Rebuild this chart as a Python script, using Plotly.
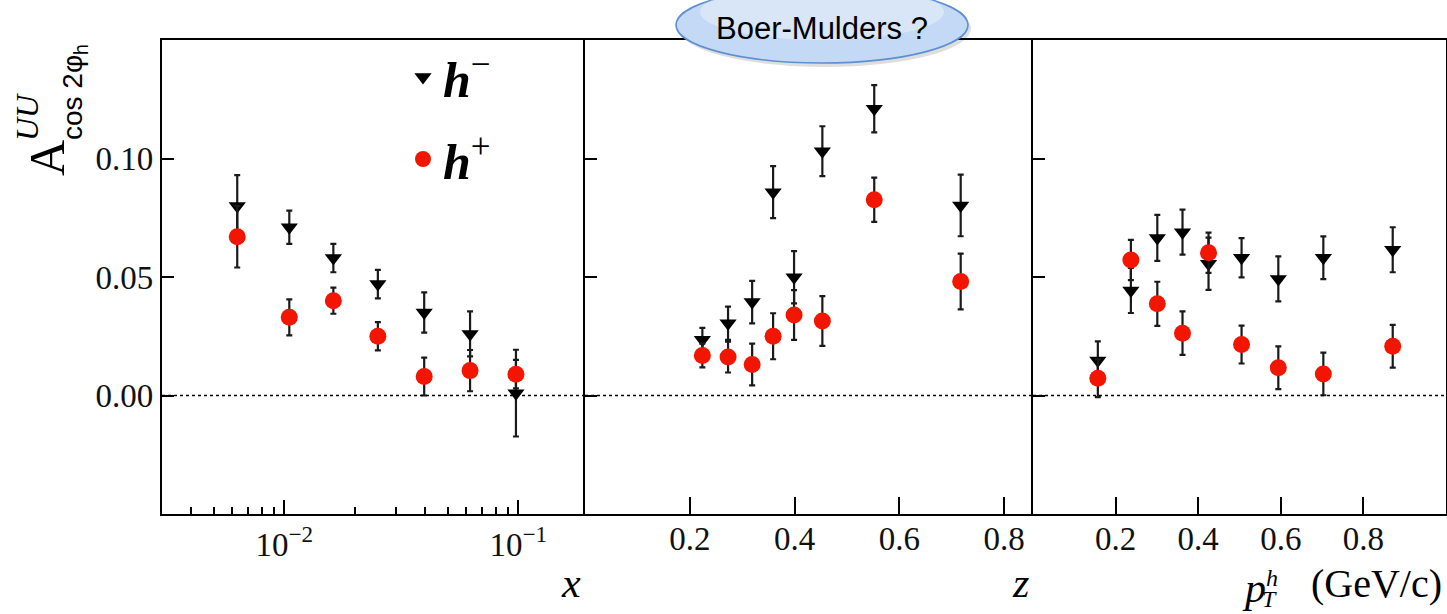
import math
import plotly.graph_objects as go

# ---------------- data ----------------
x_vals = [0.00629, 0.0105, 0.0162, 0.0251, 0.0396, 0.0622, 0.0977]
x_hminus = [0.080, 0.071, 0.058, 0.047, 0.035, 0.026, 0.001]
x_hminus_err = [0.013, 0.007, 0.006, 0.006, 0.0085, 0.0095, 0.0183]
x_hplus = [0.067, 0.033, 0.040, 0.025, 0.008, 0.0105, 0.009]
x_hplus_err = [0.013, 0.0076, 0.0055, 0.006, 0.008, 0.0087, 0.006]

z_vals = [0.224, 0.273, 0.319, 0.359, 0.399, 0.453, 0.552, 0.717]
z_hminus = [0.0235, 0.0305, 0.0394, 0.0858, 0.0499, 0.1031, 0.121, 0.0802]
z_hminus_err = [0.005, 0.007, 0.009, 0.011, 0.011, 0.0105, 0.010, 0.013]
z_hplus = [0.0169, 0.0162, 0.0131, 0.025, 0.034, 0.0314, 0.0826, 0.0481]
z_hplus_err = [0.005, 0.0065, 0.0088, 0.0097, 0.0105, 0.0105, 0.0093, 0.0118]

pt_vals = [0.157, 0.237, 0.301, 0.362, 0.425, 0.505, 0.594, 0.703, 0.871]
pt_hminus = [0.0148, 0.0443, 0.0665, 0.0689, 0.0556, 0.0581, 0.0492, 0.0581, 0.0615]
pt_hminus_err = [0.008, 0.0095, 0.0097, 0.0095, 0.011, 0.0083, 0.0095, 0.009, 0.0095]
pt_hplus = [0.0073, 0.0572, 0.0387, 0.0263, 0.0602, 0.0215, 0.0117, 0.0091, 0.0208]
pt_hplus_err = [0.008, 0.0085, 0.0093, 0.0092, 0.0085, 0.008, 0.009, 0.009, 0.009]

y_tickvals = [0.0, 0.05, 0.10]
y_ticktext = ["0.00", "0.05", "0.10"]
x_log_tickvals = [0.01, 0.1]
x_log_ticktext = ["10<sup>\u22122</sup>", "10<sup>\u22121</sup>"]
x_log_minor = [0.004, 0.005, 0.006, 0.007, 0.008, 0.009,
               0.02, 0.03, 0.04, 0.05, 0.06, 0.07, 0.08, 0.09]
lin_tickvals = [0.2, 0.4, 0.6, 0.8]
lin_ticktext = ["0.2", "0.4", "0.6", "0.8"]

# ---------------- layout helpers ----------------
W, H = 1447, 614


def px(v):
    return v / W


def py(v):
    return 1 - v / H


RED = "#f21600"
BLACK = "#000000"
SERIF = "Liberation Serif"
SANS = "Liberation Sans"

fig = go.Figure()

panels = [
    ("x", "y", x_vals, x_hminus, x_hminus_err, x_hplus, x_hplus_err),
    ("x2", "y2", z_vals, z_hminus, z_hminus_err, z_hplus, z_hplus_err),
    ("x3", "y3", pt_vals, pt_hminus, pt_hminus_err, pt_hplus, pt_hplus_err),
]

for i, (xa, ya, xs, hm, hme, hp, hpe) in enumerate(panels):
    fig.add_trace(go.Scatter(
        x=xs, y=hm, mode="markers", xaxis=xa, yaxis=ya,
        name="<b><i>h</i></b><sup>\u2212</sup>", legendgroup="hm",
        showlegend=(i == 0),
        marker=dict(symbol="triangle-down", size=15, color=BLACK),
        error_y=dict(type="data", array=hme, visible=True,
                     color="#1a1a1a", thickness=2.2, width=3),
    ))
    fig.add_trace(go.Scatter(
        x=xs, y=hp, mode="markers", xaxis=xa, yaxis=ya,
        name="<b><i>h</i></b><sup>+</sup>", legendgroup="hp",
        showlegend=(i == 0),
        marker=dict(symbol="circle", size=17, color=RED),
        error_y=dict(type="data", array=hpe, visible=True,
                     color="#1a1a1a", thickness=2.2, width=3),
    ))

common_y = dict(range=[-0.05, 0.15], domain=[py(514), py(40)],
                tickvals=y_tickvals, ticktext=y_ticktext,
                ticks="inside", ticklen=12, tickwidth=1.5, tickcolor=BLACK,
                showline=True, linewidth=2.2, linecolor=BLACK,
                showgrid=False, zeroline=False,
                tickfont=dict(family=SERIF, size=33, color="#111"))

common_x = dict(ticks="inside", tickwidth=1.5, tickcolor=BLACK,
                showline=True, linewidth=2.2, linecolor=BLACK, mirror=True,
                showgrid=False, zeroline=False,
                tickfont=dict(family=SERIF, size=33, color="#111"))

fig.update_layout(
    width=W, height=H, autosize=False,
    margin=dict(l=0, r=0, t=0, b=0),
    paper_bgcolor="white", plot_bgcolor="white",
    xaxis=dict(type="log", domain=[px(162), px(585)],
               range=[math.log10(0.003), -0.715],
               tickmode="array", tickvals=x_log_tickvals, ticktext=x_log_ticktext,
               ticklen=14, anchor="y",
               minor=dict(tickmode="array", tickvals=x_log_minor, ticks="inside",
                          ticklen=7, tickwidth=1.5, tickcolor=BLACK, showgrid=False),
               **common_x),
    xaxis2=dict(domain=[px(585), px(1033)], range=[0, 0.855],
                tickmode="array", tickvals=lin_tickvals, ticktext=lin_ticktext,
                ticklen=17, anchor="y2", ticklabelstandoff=-6, **common_x),
    xaxis3=dict(domain=[px(1033), px(1446)], range=[0, 1.0],
                tickmode="array", tickvals=lin_tickvals, ticktext=lin_ticktext,
                ticklen=17, anchor="y3", ticklabelstandoff=-6, **common_x),
    yaxis=dict(anchor="x", mirror=False, **common_y),
    yaxis2=dict(anchor="x2", mirror=False, showticklabels=False, **common_y),
    yaxis3=dict(anchor="x3", mirror=True, showticklabels=False, **common_y),
    legend=dict(x=px(403), y=py(38), xanchor="left", yanchor="top",
                bgcolor="rgba(0,0,0,0)", borderwidth=0,
                font=dict(family=SERIF, size=50, color=BLACK),
                tracegroupgap=14, itemsizing="trace"),
    showlegend=True,
)

# dotted zero lines
for xa, ya in [("x", "y"), ("x2", "y2"), ("x3", "y3")]:
    fig.add_shape(type="line", xref=f"{xa} domain", yref=ya,
                  x0=0, x1=1, y0=0, y1=0,
                  line=dict(color=BLACK, width=1.6, dash="dot"))

# Boer-Mulders bubble (shadow + ellipse with a soft top highlight)
fig.add_shape(type="circle", xref="paper", yref="paper", layer="above",
              x0=px(679), x1=px(971), y0=py(67), y1=py(-10),
              fillcolor="rgba(0,0,0,0.13)", line=dict(width=0))
fig.add_shape(type="circle", xref="paper", yref="paper", layer="above",
              x0=px(676), x1=px(968), y0=py(63), y1=py(-13),
              fillcolor="#c4d9f5", line=dict(color="#5d8fd2", width=1.6))
fig.add_shape(type="circle", xref="paper", yref="paper", layer="above",
              x0=px(700), x1=px(944), y0=py(40), y1=py(-16),
              fillcolor="rgba(255,255,255,0.35)", line=dict(width=0))

annotations = [
    dict(text="Boer-Mulders ?", x=px(822), y=py(28), xanchor="center", yanchor="middle",
         font=dict(family=SANS, size=31, color=BLACK)),
    # y-axis title pieces
    dict(text="A", x=px(47), y=py(158), textangle=-90, xanchor="center", yanchor="middle",
         font=dict(family=SERIF, size=50, color=BLACK)),
    dict(text="<i>UU</i>", x=px(27), y=py(117), textangle=-90, xanchor="center", yanchor="middle",
         font=dict(family=SERIF, size=32, color=BLACK)),
    dict(text="cos 2\u03c6<sub>h</sub>", x=px(74), y=py(92), textangle=-90,
         xanchor="center", yanchor="middle",
         font=dict(family=SANS, size=28, color=BLACK)),
    # x-axis titles
    dict(text="<i>x</i>", x=px(571), y=py(583), xanchor="center", yanchor="middle",
         font=dict(family=SERIF, size=42, color=BLACK)),
    dict(text="<i>z</i>", x=px(1020), y=py(583), xanchor="center", yanchor="middle",
         font=dict(family=SERIF, size=42, color=BLACK)),
    dict(text="<i>p</i>", x=px(1254), y=py(588), xanchor="center", yanchor="middle",
         font=dict(family=SERIF, size=42, color=BLACK)),
    dict(text="<i>h</i>", x=px(1272), y=py(563), xanchor="center", yanchor="top",
         font=dict(family=SERIF, size=24, color=BLACK)),
    dict(text="<i>T</i>", x=px(1269), y=py(614), xanchor="center", yanchor="bottom",
         font=dict(family=SERIF, size=24, color=BLACK)),
    dict(text="(GeV/c)", x=px(1376), y=py(583), xanchor="center", yanchor="middle",
         font=dict(family=SERIF, size=40, color=BLACK)),
]
for a in annotations:
    a.update(xref="paper", yref="paper", showarrow=False)
fig.update_layout(annotations=annotations)

fig.write_html("out.html")
